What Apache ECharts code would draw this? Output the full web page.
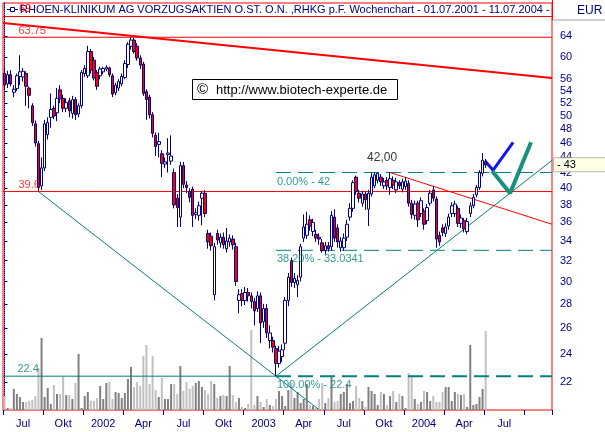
<!DOCTYPE html>
<html>
<head>
<meta charset="utf-8">
<script src="https://cdn.jsdelivr.net/npm/echarts@6/dist/echarts.min.js"></script>
<style>html,body{margin:0;padding:0;background:#fff}#chart{width:605px;height:432px}</style>
</head>
<body>
<div id="chart"></div>
<script>
// ---------- data ----------
const weekSlots = 178;                       // weekly slots on the time axis (01.07.2001 ...)
const firstWeek = '2001-07-02';
const quarterLabels = ['Jul','Okt','2002','Apr','Jul','Okt','2003','Apr','Jul','Okt','2004','Apr','Jul'];
const priceTicks = [64,60,56,54,52,50,48,46,44,42,40,38,36,34,32,30,28,26,24,22];
const lastPrice = 43;
const titleText = 'RHOEN-KLINIKUM AG VORZUGSAKTIEN O.ST. O.N. ,RHKG p.F. Wochenchart - 01.07.2001 - 11.07.2004 - 43,00 EUR';

const opens = [57.0,55.2,56.8,53.8,54.4,56.5,56.4,57.0,54.5,51.6,48.8,45.9,40.3,42.6,47.2,49.8,51.2,50.5,54.2,52.8,
51.2,52.4,50.4,52.6,50.3,51.6,57.0,56.6,61.0,59.4,57.2,56.6,57.3,57.8,58.0,56.6,53.7,54.5,55.2,56.3,
58.6,62.0,63.2,62.0,59.8,58.7,53.9,53.0,50.2,47.1,45.8,44.5,43.1,44.4,43.5,42.0,38.8,36.6,42.9,40.4,
39.6,39.9,36.9,36.8,38.8,39.4,34.8,34.5,28.8,34.8,33.8,34.4,33.2,33.9,34.2,33.4,28.3,28.9,28.3,29.0,
28.7,28.2,27.6,28.7,26.5,27.6,25.0,25.0,24.4,23.3,23.8,24.8,28.3,32.0,29.9,29.7,30.4,34.3,34.6,36.3,
35.0,34.7,34.4,33.8,33.0,33.5,33.4,36.6,35.4,33.3,33.3,34.4,36.6,37.6,41.4,39.4,38.2,39.3,37.5,39.3,
40.3,41.0,41.4,40.3,41.0,40.1,41.0,39.8,40.7,39.9,40.2,40.6,38.2,36.8,38.2,37.0,37.3,36.2,38.2,39.8,
38.7,34.6,35.4,34.8,35.6,37.0,37.0,37.6,35.9,36.2,35.0,37.0,37.9,39.2,40.1,41.9,43.4];
const closes = [55.0,56.8,55.2,54.3,56.6,57.3,57.4,54.8,53.3,49.0,46.0,40.1,42.6,48.8,49.0,51.0,50.0,52.8,52.7,51.2,
52.1,50.8,52.6,50.2,51.6,57.2,57.9,61.0,57.6,56.2,54.8,57.8,57.9,58.1,56.8,53.5,55.0,55.6,56.5,58.8,
62.4,63.2,61.0,59.8,58.5,53.6,52.6,50.2,47.4,45.5,46.2,43.2,43.4,44.6,44.2,38.0,37.7,42.9,40.5,40.1,
38.9,36.8,37.1,37.9,39.4,37.0,33.9,33.5,33.4,34.1,34.4,33.6,34.0,34.3,33.6,30.0,28.8,28.3,29.0,28.7,
28.2,27.4,28.7,26.4,27.6,25.6,25.6,24.5,23.3,24.2,24.3,28.3,30.4,29.9,30.3,30.1,33.4,35.5,35.8,35.6,
36.0,34.3,34.2,33.0,33.5,33.2,36.8,34.3,33.9,34.0,34.3,35.8,37.6,40.7,39.6,38.8,39.3,38.6,39.4,41.4,
41.7,41.9,40.8,40.8,40.3,41.2,40.4,40.8,40.3,40.8,40.9,38.2,36.9,38.1,36.3,38.5,35.8,37.7,39.4,38.8,
34.2,33.9,34.9,35.5,36.6,37.9,38.1,35.9,36.5,35.3,36.1,37.9,38.9,40.1,42.0,43.6,43.0];
const lows = [54.2,54.5,54.8,53.0,54.0,55.0,55.6,51.6,51.2,48.5,45.5,39.6,39.8,42.2,46.5,48.2,49.5,49.2,52.0,50.6,
50.6,49.8,49.6,49.4,49.8,51.2,56.4,56.2,57.0,55.8,54.2,56.0,56.9,57.4,56.4,53.0,53.3,54.0,54.8,56.0,
58.0,61.4,60.6,59.3,57.8,53.2,49.4,49.6,46.8,44.2,44.0,41.4,42.6,42.0,43.0,37.6,35.5,35.5,40.0,39.4,
38.3,35.5,36.4,36.2,35.7,36.6,33.2,33.0,28.3,33.6,33.3,33.2,32.8,33.4,33.1,29.6,27.2,27.8,27.9,28.2,
27.6,26.2,27.3,24.8,26.0,25.2,24.4,24.1,22.4,23.0,23.4,24.3,27.8,29.5,29.4,28.6,30.0,33.9,34.2,35.1,
34.5,33.9,33.6,32.8,32.6,32.9,33.0,33.9,33.3,32.9,33.0,34.0,36.2,37.2,39.2,38.3,37.8,37.4,35.6,39.0,
40.0,40.6,40.3,39.9,39.8,39.2,39.9,39.4,39.9,39.5,39.8,37.8,36.4,36.3,35.5,36.6,35.2,35.8,37.9,38.4,
33.3,33.5,34.5,34.4,35.2,36.6,36.6,35.5,35.4,34.9,34.7,36.6,37.6,38.9,39.8,41.5,42.6];
const highs = [58.0,57.5,57.6,55.0,57.0,60.3,58.0,57.4,54.8,52.0,49.3,46.3,44.0,49.4,49.8,53.6,51.6,54.5,55.0,53.4,
52.8,52.9,53.2,53.0,52.0,57.6,58.5,62.1,61.5,60.0,57.6,58.2,58.2,58.5,58.2,57.0,55.4,56.0,57.0,59.4,
62.8,63.75,63.6,62.6,60.3,59.1,54.3,53.4,50.6,47.5,47.5,45.0,44.0,46.7,47.1,42.5,39.3,43.4,43.4,40.9,
40.0,40.2,37.6,38.4,39.7,39.8,35.2,34.9,33.8,35.2,34.8,34.9,35.4,34.7,34.6,33.8,29.3,29.3,29.5,29.4,
29.0,28.5,29.1,29.0,28.0,28.0,26.2,25.3,24.6,24.6,24.7,28.6,30.8,32.3,30.8,30.6,33.7,36.9,37.2,36.8,
36.4,35.2,34.8,34.2,33.9,33.9,37.3,37.5,35.8,34.4,34.8,36.3,38.2,41.0,41.6,39.8,39.7,39.6,39.8,42.0,
42.0,42.0,41.8,41.3,41.4,42.0,41.5,41.3,41.0,41.2,41.4,41.0,38.6,38.5,38.5,38.9,37.6,38.1,39.8,40.3,
39.0,35.0,35.8,35.9,37.0,38.3,38.5,37.9,36.9,36.5,36.5,38.3,39.3,40.4,42.3,44.6,43.8];
const volumes = [14,2,2,21,16,13,8,8,9,10,14,42,72,13,22,6,25,16,16,33,15,15,11,27,56,2,14,18,9,9,
12,24,11,27,28,11,18,17,12,17,31,43,23,28,24,54,65,26,54,20,13,32,11,11,26,26,16,44,19,28,
21,24,27,29,23,20,16,29,26,12,14,15,14,44,15,8,12,3,2,6,80,
5,14,8,3,11,5,4,11,19,14,4,20,27,12,18,7,11,26,5,4,2,11,27,7,12,33,8,9,16,18,
26,7,9,24,12,9,3,23,19,16,5,18,16,5,14,19,8,16,14,2,37,35,11,6,8,19,18,9,14,8,
8,18,23,23,9,18,16,15,16,3,65,5,6,13,21,79];

// levels and drawn studies (week index, price)
const levelHigh = 63.75;
const levelLow2001 = 39.6;
const fibLevels = [42, 33.0341, 22.4];
const fibTexts = ['0.00% - 42', '38.20% - 33.0341', '100.00% - 22.4'];
const peak2003 = 42.0;
const resistanceTop = [[-0.5, 66.6], [177.5, 56.2]];
const trendDown = [[11, 39.6], [88, 22.4], [101.9, 20.21]];
const trendUp = [[88, 22.4], [177.5, 43.6]];
const resistance2003 = [[125, 42.0], [177.5, 35.8]];
const blueCheck = [[155.8, 43.5], [158.4, 42.3], [164.9, 46.1]];
const tealCheck = [[158.1, 42.2], [163.9, 39.4], [170.7, 46.1]];

// ---------- build ----------
const FONT = '"Liberation Sans", Arial, sans-serif';
const NAVY = '#000080';
const TEAL = '#008080';
const categories = [];
const t0 = Date.parse(firstWeek + 'T00:00:00Z');
for (let i = 0; i < weekSlots; i++) categories.push(new Date(t0 + i * 7 * 864e5).toISOString().slice(0, 10));
const candleData = opens.map((o, i) => [o, closes[i], lows[i], highs[i]]);
const volData = volumes.map((v, i) => ({value: v, itemStyle: {color: closes[i] < opens[i] ? '#c0c0c0' : '#808080'}}));
const lastX = weekSlots - 0.5;

function lineSeries(data, color, width, type) {
  return {type: 'line', xAxisIndex: 1, yAxisIndex: 0, data: data, symbol: 'none', silent: true,
    lineStyle: {color: color, width: width, type: type || 'solid'}, z: 5, animation: false};
}
function note(pos, text, color, place, distance, size, align) {
  return {value: pos, label: {show: true, formatter: text, color: color, position: place, distance: distance,
    align: align || 'left', fontSize: size || 11, fontFamily: FONT}};
}

const chart = echarts.init(document.getElementById('chart'), null, {renderer: 'canvas'});
chart.setOption({
  animation: false,
  backgroundColor: '#ffffff',
  grid: {left: 3, right: 53, top: 3, bottom: 22, show: true, borderColor: '#ff0000', borderWidth: 1, backgroundColor: '#ffffff'},
  xAxis: [
    {type: 'category', data: categories, boundaryGap: true,
      axisLine: {show: false},
      axisTick: {show: true, interval: (i) => i % 13 === 0, length: 5, lineStyle: {color: NAVY}},
      axisLabel: {interval: (i) => i % 13 === 6 && (i - 6) / 13 < quarterLabels.length,
        formatter: (v, i) => quarterLabels[Math.round((i - 6) / 13)] || '', color: NAVY, fontSize: 11, fontFamily: FONT, margin: 8},
      splitLine: {show: false}},
    {type: 'value', min: -0.5, max: lastX, show: false}
  ],
  yAxis: [
    {type: 'log', logBase: 10, min: 20.18, max: 70.86, position: 'right', offset: 3,
      axisLine: {show: true, lineStyle: {color: NAVY, type: 'dotted', width: 1}},
      axisTick: {show: true, customValues: priceTicks, length: 3, lineStyle: {color: NAVY}},
      axisLabel: {customValues: priceTicks, color: NAVY, fontSize: 11, fontFamily: FONT, margin: 5,
        formatter: (v) => String(Math.round(v))},
      splitLine: {show: false}, minorTick: {show: false}, minorSplitLine: {show: false}},
    {type: 'value', min: 0, max: 407, show: false}
  ],
  series: [
    {type: 'bar', name: 'Volumen', xAxisIndex: 0, yAxisIndex: 1, data: volData, barWidth: 2, silent: true, z: 1},
    lineSeries([[-0.5, levelHigh], [lastX, levelHigh]], '#ff0000', 1),
    lineSeries([[-0.5, levelLow2001], [lastX, levelLow2001]], '#ff0000', 1),
    lineSeries([[-0.5, fibLevels[2]], [88, fibLevels[2]]], TEAL, 1),
    lineSeries([[88, fibLevels[2]], [lastX, fibLevels[2]]], TEAL, 2, [15, 7]),
    lineSeries([[88, fibLevels[0]], [lastX, fibLevels[0]]], TEAL, 1, [15, 7]),
    lineSeries([[88, fibLevels[1]], [lastX, fibLevels[1]]], TEAL, 1, [15, 7]),
    lineSeries(resistanceTop, '#ff0000', 2),
    lineSeries(trendDown, TEAL, 1),
    lineSeries(trendUp, TEAL, 1),
    lineSeries(resistance2003, '#ff0000', 1),
    {type: 'candlestick', name: 'RHK', xAxisIndex: 0, yAxisIndex: 0, data: candleData, barWidth: 3, z: 6, silent: true,
      itemStyle: {color: '#ffffff', color0: '#ff0000', borderColor: NAVY, borderColor0: NAVY, borderWidth: 1},
      markLine: {silent: true, symbol: 'none', animation: false,
        lineStyle: {color: 'rgba(0,0,0,0)', width: 1},
        label: {show: true, position: 'end', distance: 2, formatter: '- ' + lastPrice, color: '#000000', fontSize: 11,
          fontFamily: FONT, backgroundColor: '#ffffe6', borderColor: '#b8b8b8', borderWidth: 1, padding: [1, 34, 1, 3]},
        data: [{yAxis: lastPrice}]}},
    lineSeries(blueCheck, '#1414f0', 3),
    lineSeries(tealCheck, '#17907e', 4),
    {type: 'scatter', xAxisIndex: 1, yAxisIndex: 0, symbol: 'circle', symbolSize: 0, silent: true, z: 8,
      data: [
        note([4.5, levelHigh], String(levelHigh), '#ff0000', 'top', 1),
        note([4.5, levelLow2001], String(levelLow2001), '#ff0000', 'top', 1),
        note([4.2, fibLevels[2]], String(fibLevels[2]), TEAL, 'top', 2),
        note([88.3, fibLevels[0]], fibTexts[0], TEAL, 'bottom', 4),
        note([88.3, fibLevels[1]], fibTexts[1], TEAL, 'bottom', 3),
        note([88.3, fibLevels[2]], fibTexts[2], TEAL, 'bottom', 3),
        note([122.4, peak2003], '42,00', '#000000', 'top', 9, 12, 'center')
      ]}
  ],
  graphic: [
    {type: 'line', shape: {x1: 3, y1: 16.5, x2: 552, y2: 16.5}, style: {stroke: '#ff0000', lineWidth: 1}, z: 40},
    {type: 'line', shape: {x1: 7, y1: 9.5, x2: 18, y2: 9.5}, style: {stroke: NAVY, lineWidth: 1}, z: 40},
    {type: 'rect', shape: {x: 10.5, y: 7.5, width: 4, height: 4}, style: {fill: '#ffffff', stroke: NAVY, lineWidth: 1}, z: 41},
    {type: 'text', x: 20, y: 10, style: {text: titleText, fill: NAVY, font: '11px ' + FONT, align: 'left', verticalAlign: 'middle'}, z: 40},
    {type: 'text', x: 19, y: 9, style: {text: '69', fill: '#ff0000', font: '11px ' + FONT, align: 'left', verticalAlign: 'middle'}, z: 42},
    {type: 'rect', shape: {x: 552.5, y: -1, width: 60, height: 21}, style: {fill: '#ffffff', stroke: '#a0a0a0', lineWidth: 1}, z: 45},
    {type: 'line', shape: {x1: 552.5, y1: 0, x2: 552.5, y2: 20}, style: {stroke: '#ff0000', lineWidth: 1}, z: 46},
    {type: 'text', x: 577, y: 11, style: {text: 'EUR', fill: NAVY, font: '12px ' + FONT, align: 'left', verticalAlign: 'middle'}, z: 46},
    {type: 'rect', shape: {x: 192.5, y: 79.5, width: 205, height: 20}, style: {fill: '#ffffff', stroke: '#000000', lineWidth: 1}, z: 40},
    {type: 'text', x: 197, y: 90, style: {text: '\u00a9', fill: '#000000', font: '15px ' + FONT, align: 'left', verticalAlign: 'middle'}, z: 41},
    {type: 'text', x: 216, y: 90, style: {text: 'http://www.biotech-experte.de', fill: '#000000', font: '13px ' + FONT, align: 'left', verticalAlign: 'middle'}, z: 41}
  ]
});
</script>
</body>
</html>
